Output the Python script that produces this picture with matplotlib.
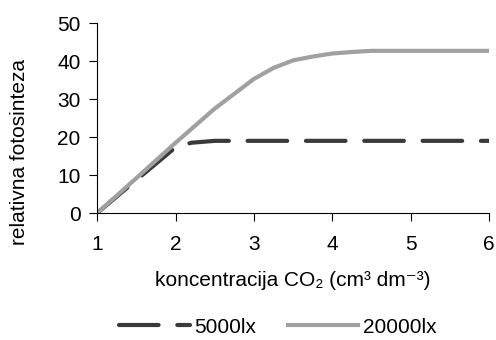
import matplotlib
matplotlib.use("Agg")
import matplotlib.pyplot as plt

plt.rcParams['font.family'] = ['Liberation Sans', 'DejaVu Sans']

x_vals = [1, 1.5, 2, 2.2, 2.5, 3, 3.5, 4, 4.5, 5, 5.5, 6]
lx5000 = [0, 8.7, 17.3, 18.5, 19, 19, 19, 19, 19, 19, 19, 19]
x20 = [1, 1.5, 2, 2.5, 3, 3.25, 3.5, 3.75, 4, 4.25, 4.5, 5, 5.5, 6]
lx20000 = [0, 9.2, 18.5, 27.5, 35.3, 38.2, 40.2, 41.2, 42.0, 42.4, 42.7, 42.7, 42.7, 42.7]
xticks = [1, 2, 3, 4, 5, 6]
yticks = [0, 10, 20, 30, 40, 50]

fig = plt.figure(figsize=(4.96, 3.4), dpi=100)
ax = fig.add_axes([0.196, 0.3735, 0.79, 0.5585])
l1, = ax.plot(x_vals, lx5000, color='#3a3a3a', lw=3.0, dashes=(9.5, 4.5),
              solid_capstyle='round', dash_capstyle='round', label='5000lx')
l2, = ax.plot(x20, lx20000, color='#a0a0a0', lw=3.0, label='20000lx')
ax.set_xlim(1, 6)
ax.set_ylim(0, 50)
ax.set_xticks(xticks)
ax.set_yticks(yticks)
for s in ['top', 'right']:
    ax.spines[s].set_visible(False)
ax.tick_params(direction='out', length=6, labelsize=15, colors='black')
ax.tick_params(axis='x', pad=10)
ax.tick_params(axis='y', pad=6)
ax.set_ylabel('relativna fotosinteza', fontsize=15)
ax.yaxis.set_label_coords(-0.175, 0.32)
ax.set_xlabel('koncentracija CO₂ (cm³ dm⁻³)', fontsize=15, labelpad=12)
fig.legend(handles=[l1, l2], loc='center', bbox_to_anchor=(0.56, 0.038), ncol=2,
           frameon=False, fontsize=15, handlelength=3.4, columnspacing=1.5,
           handletextpad=0.2)
fig.savefig('out.png', dpi=100)
